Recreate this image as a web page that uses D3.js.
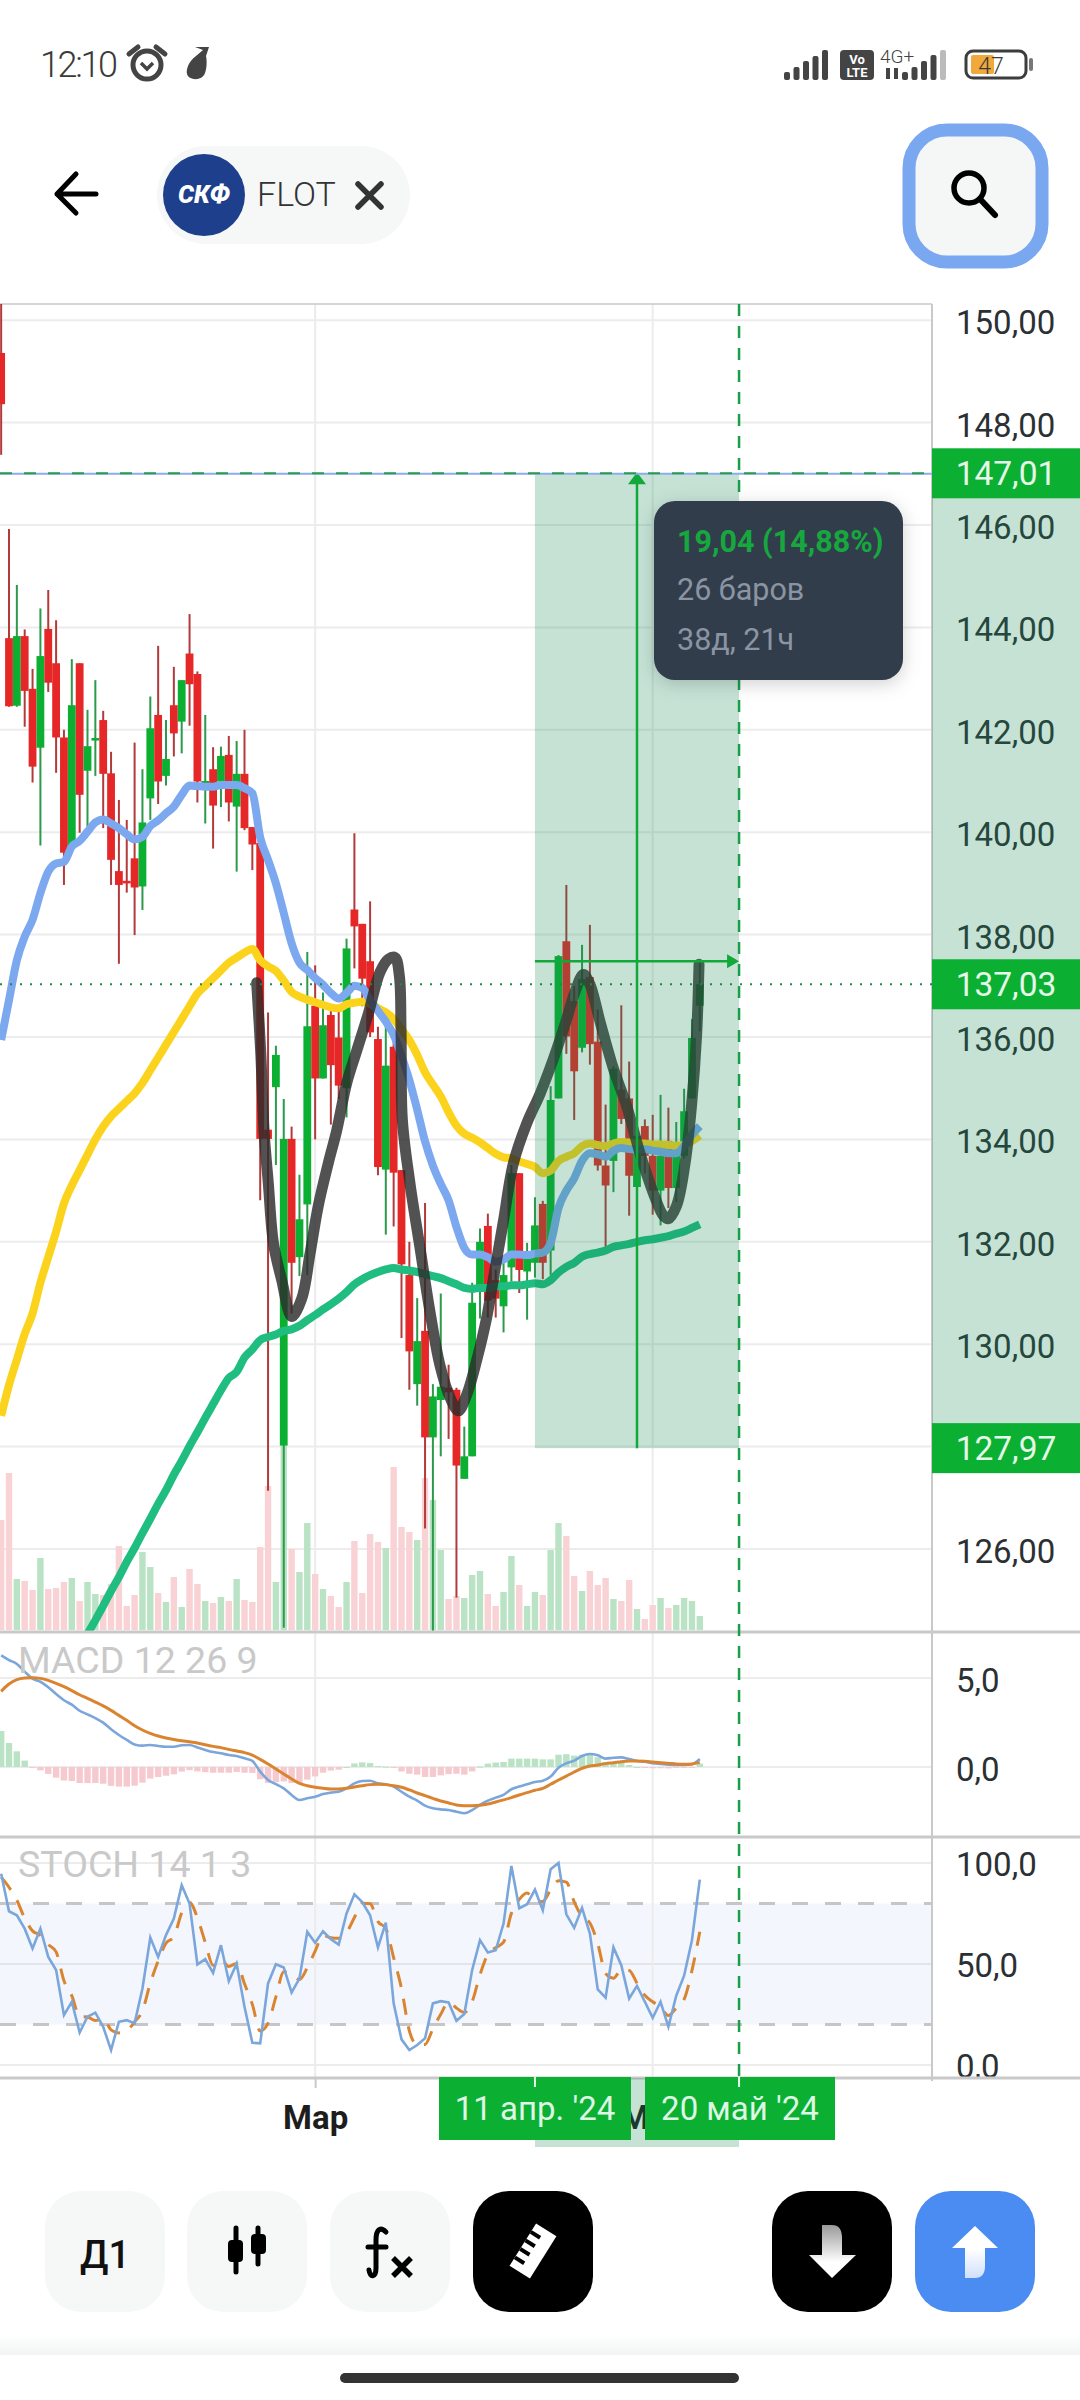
<!DOCTYPE html>
<html><head><meta charset="utf-8">
<style>html,body{margin:0;padding:0;background:#fff}svg{display:block}text{font-family:Roboto,sans-serif}</style>
<script src="https://cdn.jsdelivr.net/npm/d3@7/dist/d3.min.js"></script></head>
<body><div id="chart"></div>
<script>
const openP=[149.36,143.79,142.47,143.83,142.80,141.65,143.97,143.30,141.85,139.72,143.30,141.20,141.79,142.19,141.15,139.24,139.05,139.49,138.94,140.66,142.29,141.10,142.48,142.16,143.49,143.09,140.85,141.23,140.99,141.51,140.50,141.14,140.10,139.79,134.19,135.02,128.02,134.01,131.70,132.73,136.61,135.19,136.43,135.99,135.00,138.49,138.21,137.48,135.96,133.41,135.81,133.40,131.35,129.22,130.26,128.18,128.91,129.15,129.11,127.37,127.81,131.15,132.31,131.25,130.74,131.50,133.34,131.42,131.59,132.74,131.83,134.80,137.87,136.70,135.79,137.17,135.91,133.49,133.58,134.97,134.80,133.07,134.26,133.68,133.00,133.97,133.05,133.68,134.80,136.61];
const highP=[150.40,145.92,144.83,143.96,143.19,144.37,144.73,144.14,142.00,143.38,143.30,142.39,142.97,142.37,141.57,140.63,140.24,141.75,141.23,142.65,143.64,142.19,143.23,142.97,144.26,143.14,142.29,141.66,141.67,141.88,141.78,142.00,140.10,139.79,136.48,135.83,134.79,134.25,133.31,137.66,137.40,136.87,136.54,136.56,137.92,139.98,138.21,138.65,136.20,136.30,135.94,133.40,132.00,130.90,132.76,129.22,130.99,129.60,129.15,128.39,131.20,132.26,132.55,131.46,131.67,133.50,133.34,131.98,132.87,132.80,135.04,137.60,138.97,137.00,137.80,138.19,136.54,134.68,135.43,136.62,135.52,134.80,134.39,134.48,134.87,134.62,134.34,134.99,136.35,137.47];
const lowP=[147.37,142.45,142.45,142.06,140.97,139.74,142.74,141.16,138.97,139.60,139.99,140.08,141.10,140.08,138.97,137.43,138.82,137.99,138.48,140.24,140.55,140.91,141.48,141.54,142.08,140.58,140.17,139.68,140.49,140.21,139.23,140.04,139.26,132.81,127.14,133.50,124.46,130.60,131.33,131.35,134.00,135.19,134.29,134.79,134.43,137.34,136.60,136.00,133.30,132.14,132.30,130.12,129.11,128.80,126.40,124.40,127.81,128.15,125.05,127.37,127.81,130.50,130.52,130.52,130.23,131.22,131.00,130.48,131.30,131.27,131.35,134.80,135.67,134.38,135.70,135.46,133.39,131.86,132.97,134.30,132.51,133.00,133.34,132.53,132.32,132.66,132.78,133.63,134.80,136.11];
const closeP=[148.36,142.46,143.83,142.76,141.28,143.44,142.92,141.85,139.60,142.48,140.73,141.68,141.84,141.14,139.46,138.97,139.00,138.92,140.19,142.03,140.99,141.43,141.93,142.97,142.89,140.99,141.00,140.52,141.49,140.58,141.14,140.08,139.76,134.01,134.01,135.65,134.01,131.59,132.44,136.21,135.19,136.23,135.45,135.05,137.73,138.16,137.14,136.09,133.46,135.44,133.35,131.56,129.86,130.06,128.18,128.98,129.17,129.06,127.63,127.81,130.81,132.00,130.85,130.89,131.35,133.34,131.45,131.74,132.32,131.59,134.77,137.58,136.01,135.33,137.13,135.86,133.49,133.10,135.38,134.40,133.29,134.07,133.68,133.00,133.68,133.05,133.73,134.55,135.98,137.03];
const volume=[110,157,51,49,40,72,41,42,48,52,29,48,36,35,46,84,24,35,78,63,37,28,53,23,61,46,29,27,33,29,51,30,28,83,144,48,190,81,58,107,56,41,34,23,48,89,37,96,88,82,163,103,98,90,152,130,80,31,34,32,55,59,36,24,38,74,45,24,38,35,80,107,94,54,39,59,45,52,31,29,50,21,11,25,32,22,25,32,29,14];
const maBlue=[135.94,136.72,137.5,137.96,138.29,138.81,139.23,139.39,139.42,139.72,139.83,140.01,140.19,140.25,140.17,140.08,139.96,139.86,139.91,140.12,140.23,140.37,140.5,140.73,140.91,140.9,140.89,140.89,140.92,140.92,140.92,140.86,140.76,139.9,139.46,139,138.42,137.83,137.45,137.31,137.15,137.02,136.86,136.75,136.86,137,136.96,136.72,136.51,136.3,136.04,135.63,135.16,134.58,133.96,133.49,133.13,132.81,132.29,131.88,131.75,131.75,131.7,131.61,131.65,131.75,131.75,131.74,131.77,131.79,131.98,132.66,133,133.24,133.58,133.73,133.71,133.66,133.78,133.83,133.81,133.8,133.81,133.78,133.76,133.73,133.73,133.87,134.09,134.26];
const maYellow=[128.6,129.2,129.7,130.2,130.6,131.2,131.7,132.2,132.75,133.1,133.4,133.7,134,134.25,134.45,134.6,134.75,134.9,135.1,135.35,135.6,135.85,136.1,136.35,136.6,136.85,137,137.15,137.3,137.45,137.55,137.65,137.72,137.5,137.38,137.29,137.1,136.88,136.79,136.73,136.68,136.63,136.58,136.56,136.64,136.67,136.69,136.65,136.56,136.48,136.35,136.15,135.94,135.65,135.31,135.07,134.84,134.53,134.27,134.11,134.03,133.94,133.83,133.72,133.65,133.63,133.57,133.52,133.46,133.34,133.39,133.58,133.66,133.73,133.87,133.92,133.89,133.87,133.92,133.95,133.94,133.92,133.92,133.9,133.9,133.89,133.88,133.9,133.97,134.07];
const maGreen=[null,null,null,null,null,null,null,null,null,null,null,124.34,124.61,124.89,125.18,125.45,125.75,126.02,126.31,126.59,126.88,127.15,127.45,127.72,128.01,128.28,128.56,128.83,129.1,129.34,129.46,129.74,129.9,130.08,130.14,130.19,130.26,130.29,130.36,130.47,130.57,130.68,130.78,130.89,131.02,131.17,131.27,131.35,131.41,131.46,131.49,131.46,131.44,131.41,131.37,131.33,131.29,131.23,131.17,131.1,131.08,131.1,131.1,131.13,131.13,131.15,131.15,131.17,131.19,131.17,131.25,131.4,131.51,131.59,131.71,131.76,131.79,131.83,131.9,131.93,131.96,132,132.03,132.05,132.08,132.11,132.16,132.2,132.27,132.34];
const drawnBar=[32.55,33.06,33.49,34.04,34.68,35.74,37.01,38.29,39.35,40.41,41.68,42.74,44.02,45.29,46.78,48.27,49.33,50.18,50.73,50.94,51.11,52.09,53.36,54.63,55.91,57.18,58.24,59.3,60.58,61.85,62.91,63.98,65.25,66.95,68.65,70.34,72.04,73.1,74.17,75,76.29,78,79.69,81.38,83.08,84.36,85,86.05,87.12,87.97,88.6,88.9];
const drawnPrice=[137.06,135.73,134.17,133.13,131.98,131.25,130.54,130.89,131.77,132.71,133.54,134.17,135.1,135.73,136.46,137.27,137.52,137.55,137.19,136.15,134.38,133.13,131.88,130.63,129.58,128.96,128.7,129.01,129.69,130.52,131.46,132.4,133.53,134.31,134.89,135.57,136.35,136.88,137.22,137.03,136.3,135.38,134.65,133.73,132.95,132.51,132.45,132.71,133.53,134.7,136.06,137.42];
const macdLine=[6.27,6.01,5.79,5.36,4.96,4.79,4.48,4.10,3.75,3.50,3.16,2.96,2.75,2.49,2.12,1.80,1.52,1.27,1.20,1.24,1.18,1.14,1.14,1.22,1.24,1.10,0.96,0.84,0.77,0.67,0.62,0.49,0.34,-0.26,-0.73,-0.96,-1.2,-1.57,-1.85,-1.76,-1.67,-1.52,-1.44,-1.39,-1.2,-0.92,-0.79,-0.77,-0.92,-0.97,-1.1,-1.39,-1.67,-1.89,-2.17,-2.32,-2.38,-2.42,-2.51,-2.6,-2.42,-2.13,-1.89,-1.72,-1.57,-1.25,-1.10,-0.97,-0.84,-0.77,-0.54,-0.04,0.21,0.36,0.62,0.73,0.66,0.47,0.52,0.54,0.45,0.34,0.30,0.21,0.17,0.13,0.11,0.11,0.15,0.45];
const macdSignal=[4.25,4.66,4.91,5.0,5.02,4.98,4.87,4.70,4.51,4.29,4.06,3.86,3.65,3.43,3.18,2.90,2.62,2.32,2.08,1.89,1.74,1.63,1.55,1.48,1.42,1.35,1.25,1.16,1.09,0.99,0.90,0.81,0.67,0.43,0.17,-0.11,-0.39,-0.67,-0.92,-1.05,-1.14,-1.20,-1.24,-1.24,-1.2,-1.12,-1.05,-0.99,-0.97,-0.99,-1.05,-1.14,-1.29,-1.46,-1.61,-1.76,-1.91,-2.02,-2.13,-2.17,-2.17,-2.15,-2.08,-1.97,-1.85,-1.72,-1.57,-1.44,-1.31,-1.2,-0.97,-0.73,-0.51,-0.28,-0.07,0.06,0.11,0.19,0.24,0.30,0.34,0.34,0.32,0.28,0.24,0.21,0.17,0.15,0.17,0.26];
const stochK=[94.7,76.1,74.1,67.5,57.7,67.5,53.5,47,24.7,31.3,16.1,23.9,25.9,18.9,7.4,21.4,22.2,20.6,37.9,63.1,53.5,64.3,72.5,89,79.9,49.8,52.4,45.6,59.3,41.5,50.2,28.8,11,10.7,40.4,49.9,48.3,35.9,42.8,65.9,60.5,66.2,62.3,59.6,75,84.5,80.7,74.1,58.2,70.5,30.5,12.7,7.4,9.9,13.2,30.5,31.6,31,21.9,25.2,47,61.8,55.7,56.8,70,98.5,77.6,79.6,86.8,76.6,96.9,100,74.6,67.9,77.8,65.1,37.4,33.3,58.2,49.4,32.9,39.2,31.3,23.4,31.3,18.9,34.3,44.2,61.8,91.8];
const stochD=[93,88,81.6,72.6,66.4,64.2,59.6,56,41.7,34.3,24,23.8,22,22.9,17.4,15.9,17,21.4,26.9,40.5,51.5,60.3,63.4,75.3,80.5,72.9,60.7,49.3,52.4,48.8,50.3,40.2,30,16.8,20.7,33.7,46.2,44.7,42.3,48.2,56.4,64.2,63,62.7,65.6,73,80.1,79.8,71,67.6,53.1,37.9,16.9,10,10.2,17.9,25.1,31,28.2,26,31.4,44.7,54.8,58.1,60.8,75.1,82,85.2,81.3,81,86.8,91.2,90.5,80.8,73.4,70.3,60.1,45.3,43,47,46.8,40.5,34.5,31.3,28.7,24.5,28.2,32.5,46.8,66];
const priceTicks=d3.range(126,151,2);
const macdTicks=[0,5];
const stochTicks=[0,50,100];
const monthBars=[40,83];
const monthNames=["Мар","Май"];
const rangeBars=[68,94];
const rangePrices=[147.01,127.97];
const targetPrice=137.48;
const lastPrice=137.03;
const dateTags=["11 апр. '24","20 май '24"];
const tooltipLines=["19,04 (14,88%)","26 баров","38д, 21ч"];

const svg=d3.select('#chart').append('svg').attr('width',1080).attr('height',2400).attr('viewBox','0 0 1080 2400');
const defs=svg.append('defs');
const P={l:0,r:932,top:304,main:1632,macd:1837,stoch:2078};
const clip=(id,y0,y1,w=1080)=>defs.append('clipPath').attr('id',id).append('rect').attr('x',0).attr('y',y0).attr('width',w).attr('height',y1-y0);
clip('cMain',P.top,P.main,P.r);clip('cMacd',P.main,P.macd,P.r);clip('cStoch',P.macd,P.stoch,P.r);clip('cAxis',P.top,P.stoch);
const sh=defs.append('filter').attr('id','sh').attr('x','-20%').attr('y','-20%').attr('width','140%').attr('height','140%');
sh.append('feDropShadow').attr('dx',0).attr('dy',4).attr('stdDeviation',9).attr('flood-color','#000').attr('flood-opacity',.18);
const gDown=defs.append('linearGradient').attr('id','gDown').attr('x1',0).attr('y1',0).attr('x2',0).attr('y2',1);
gDown.append('stop').attr('offset',0).attr('stop-color','#999');gDown.append('stop').attr('offset',.7).attr('stop-color','#fff');
const gUp=defs.append('linearGradient').attr('id','gUp').attr('x1',0).attr('y1',0).attr('x2',0).attr('y2',1);
gUp.append('stop').attr('offset',.45).attr('stop-color','#fff');gUp.append('stop').attr('offset',1).attr('stop-color','#cfe0fb');
const gFoot=defs.append('linearGradient').attr('id','gFoot').attr('x1',0).attr('y1',0).attr('x2',0).attr('y2',1);
gFoot.append('stop').attr('offset',0).attr('stop-color','#fff');gFoot.append('stop').attr('offset',1).attr('stop-color','#f2f3f3');

const x=d3.scaleLinear().domain([0,100]).range([1.15,786.15]);
const y=d3.scaleLinear().domain([126,146]).range([1549,525]);
const yVol=d3.scaleLinear().domain([0,200]).range([1630,1430]);
const yM=d3.scaleLinear().domain([0,5]).range([1767,1678]);
const yS=d3.scaleLinear().domain([0,100]).range([2065,1863]);
const bars=d3.range(openP.length);
const GRID='#ececec',DIV='#c9c9c9',UP='#0bb033',DOWN='#e62727';

// grid
const grid=svg.append('g');
grid.selectAll('.gp').data(priceTicks).join('line').attr('x1',0).attr('x2',P.r).attr('y1',d=>y(d)).attr('y2',d=>y(d)).attr('stroke',GRID).attr('stroke-width',2);
grid.selectAll('.gm').data(macdTicks).join('line').attr('x1',0).attr('x2',P.r).attr('y1',d=>yM(d)).attr('y2',d=>yM(d)).attr('stroke',GRID).attr('stroke-width',2);
grid.append('rect').attr('x',0).attr('width',P.r).attr('y',yS(80)).attr('height',yS(20)-yS(80)).attr('fill','#f3f7fd');
grid.selectAll('.gs').data(stochTicks).join('line').attr('x1',0).attr('x2',P.r).attr('y1',d=>yS(d)).attr('y2',d=>yS(d)).attr('stroke',d=>d==50?'#e2e4e8':GRID).attr('stroke-width',2);
grid.selectAll('.gv').data(monthBars).join('line').attr('x1',d=>x(d)).attr('x2',d=>x(d)).attr('y1',P.top).attr('y2',P.stoch).attr('stroke',GRID).attr('stroke-width',2);
grid.append('line').attr('x1',0).attr('x2',P.r).attr('y1',P.top).attr('y2',P.top).attr('stroke',DIV).attr('stroke-width',1.5);

// main pane
const main=svg.append('g').attr('clip-path','url(#cMain)');
const isUp=i=>closeP[i]>=openP[i];
main.append('g').selectAll('rect').data(bars).join('rect')
 .attr('x',i=>x(i)-3.2).attr('width',6.4).attr('y',i=>yVol(volume[i])).attr('height',i=>yVol(0)-yVol(volume[i]))
 .attr('fill',i=>isUp(i)?'#b9e3c4':'#f8d2d5');
main.append('g').selectAll('line').data(bars).join('line')
 .attr('x1',i=>x(i)).attr('x2',i=>x(i)).attr('y1',i=>y(highP[i])).attr('y2',i=>y(lowP[i]))
 .attr('stroke',i=>isUp(i)?'#2b9a4a':'#b23a3a').attr('stroke-width',2);
main.append('g').selectAll('rect').data(bars).join('rect')
 .attr('x',i=>x(i)-3.9).attr('width',7.8).attr('y',i=>y(Math.max(openP[i],closeP[i])))
 .attr('height',i=>Math.max(2,Math.abs(y(openP[i])-y(closeP[i])))).attr('fill',i=>isUp(i)?UP:DOWN);
const lineOf=(arr,sc)=>d3.line().defined(i=>arr[i]!=null).x(i=>x(i)).y(i=>sc(arr[i])).curve(d3.curveMonotoneX)(bars);
main.append('path').attr('d',lineOf(maGreen,y)).attr('fill','none').attr('stroke','#1fbd80').attr('stroke-width',8);
main.append('path').attr('d',lineOf(maYellow,y)).attr('fill','none').attr('stroke','#fcd31c').attr('stroke-width',8);
main.append('path').attr('d',lineOf(maBlue,y)).attr('fill','none').attr('stroke','#7ba8ee').attr('stroke-width',8);
main.append('path').datum(drawnBar.map((b,k)=>[b,drawnPrice[k]]))
 .attr('d',d3.line().x(d=>x(d[0])).y(d=>y(d[1])).curve(d3.curveCatmullRom.alpha(.5)))
 .attr('fill','none').attr('stroke','#2c2c2c').attr('stroke-opacity',.82).attr('stroke-width',11).attr('stroke-linecap','round').attr('stroke-linejoin','round');

// macd pane
const mp=svg.append('g').attr('clip-path','url(#cMacd)');
mp.append('g').selectAll('rect').data(bars).join('rect')
 .attr('x',i=>x(i)-3.2).attr('width',6.4)
 .attr('y',i=>Math.min(yM(0),yM(macdLine[i]-macdSignal[i]))).attr('height',i=>Math.max(1,Math.abs(yM(macdLine[i]-macdSignal[i])-yM(0))))
 .attr('fill',i=>macdLine[i]>=macdSignal[i]?'#b9e3c4':'#f6c9ce');
mp.append('path').attr('d',lineOf(macdLine,yM)).attr('fill','none').attr('stroke','#7ba6dc').attr('stroke-width',2.6);
mp.append('path').attr('d',lineOf(macdSignal,yM)).attr('fill','none').attr('stroke','#da8430').attr('stroke-width',3);
mp.append('text').attr('x',18).attr('y',1673).attr('font-size',37.5).attr('fill','#c9c9c9').text('MACD 12 26 9');

// stoch pane
const sp=svg.append('g').attr('clip-path','url(#cStoch)');
sp.selectAll('.lv').data([20,80]).join('line').attr('x1',0).attr('x2',P.r).attr('y1',d=>yS(d)).attr('y2',d=>yS(d)).attr('stroke','#c6c6c6').attr('stroke-width',3).attr('stroke-dasharray','16 17');
sp.append('path').attr('d',d3.line().x(i=>x(i)).y(i=>yS(stochD[i])).curve(d3.curveMonotoneX)(bars)).attr('fill','none').attr('stroke','#da8430').attr('stroke-width',3).attr('stroke-dasharray','16 12');
sp.append('path').attr('d',d3.line().x(i=>x(i)).y(i=>yS(stochK[i]))(bars)).attr('fill','none').attr('stroke','#7ba6dc').attr('stroke-width',2.6);
sp.append('text').attr('x',18).attr('y',1877).attr('font-size',37.5).attr('fill','#c9c9c9').text('STOCH 14 1 3');

// axes
const fmt2=d=>d.toFixed(2).replace('.',','), fmt1=d=>d.toFixed(1).replace('.',',');
const styleAxis=g=>{g.select('.domain').remove();g.selectAll('text').attr('font-size',33).attr('fill','#2b3034').attr('font-family','Roboto');};
const axisGroup=svg.append('g').attr('clip-path','url(#cAxis)');
axisGroup.append('g').attr('transform',`translate(${P.r},3)`).call(d3.axisRight(y).tickValues(priceTicks).tickSize(0).tickPadding(24).tickFormat(fmt2)).call(styleAxis);
axisGroup.append('g').attr('transform',`translate(${P.r},3)`).call(d3.axisRight(yM).tickValues(macdTicks).tickSize(0).tickPadding(24).tickFormat(fmt1)).call(styleAxis);
axisGroup.append('g').attr('transform',`translate(${P.r},2)`).call(d3.axisRight(yS).tickValues(stochTicks).tickSize(0).tickPadding(24).tickFormat(fmt1)).call(styleAxis);

// dividers
[P.main,P.macd,P.stoch].forEach(v=>svg.append('line').attr('x1',0).attr('x2',1080).attr('y1',v).attr('y2',v).attr('stroke',DIV).attr('stroke-width',3));
svg.append('line').attr('x1',P.r).attr('x2',P.r).attr('y1',P.top).attr('y2',P.stoch+3).attr('stroke',DIV).attr('stroke-width',2);

// time axis
const xa=svg.append('g').attr('transform',`translate(0,${P.stoch})`).call(d3.axisBottom(x).tickValues(monthBars).tickSize(10).tickPadding(18).tickFormat((d,k)=>monthNames[k]));
xa.select('.domain').remove();
xa.selectAll('line').attr('stroke',DIV).attr('stroke-width',2);
xa.selectAll('text').attr('font-size',33).attr('font-weight',700).attr('fill','#1d1d1d').attr('font-family','Roboto');

// measure overlay
const ov=svg.append('g');
const rx0=x(rangeBars[0]),rx1=x(rangeBars[1]),ry0=y(rangePrices[0]),ry1=y(rangePrices[1]);
const OV='rgba(24,140,88,.25)';
ov.append('rect').attr('x',rx0).attr('width',rx1-rx0).attr('y',ry0).attr('height',ry1-ry0).attr('fill',OV);
ov.append('rect').attr('x',P.r).attr('width',1080-P.r).attr('y',ry0).attr('height',ry1-ry0).attr('fill',OV);
ov.append('rect').attr('x',rx0).attr('width',rx1-rx0).attr('y',P.stoch).attr('height',69).attr('fill',OV);
const LG='#12a83a';
const mid=(rx0+rx1)/2;
ov.append('line').attr('x1',mid).attr('x2',mid).attr('y1',ry1).attr('y2',ry0+6).attr('stroke',LG).attr('stroke-width',2.5);
ov.append('path').attr('d',`M${mid},${ry0-1}l9,12h-18z`).attr('fill',LG);
ov.append('line').attr('x1',rx0).attr('x2',rx1-8).attr('y1',y(targetPrice)).attr('y2',y(targetPrice)).attr('stroke',LG).attr('stroke-width',2.5);
ov.append('path').attr('d',`M${rx1},${y(targetPrice)}l-12,-7v14z`).attr('fill',LG);
ov.append('line').attr('x1',0).attr('x2',P.r).attr('y1',ry0+.5).attr('y2',ry0+.5).attr('stroke','#8aaee8').attr('stroke-width',2);
ov.append('line').attr('x1',0).attr('x2',P.r).attr('y1',ry0).attr('y2',ry0).attr('stroke','#2a9a50').attr('stroke-width',2).attr('stroke-dasharray','12 12');
ov.append('line').attr('x1',0).attr('x2',P.r).attr('y1',y(lastPrice)).attr('y2',y(lastPrice)).attr('stroke','#1f8a45').attr('stroke-width',2).attr('stroke-dasharray','2 8');
ov.append('line').attr('x1',rx1).attr('x2',rx1).attr('y1',P.top).attr('y2',P.stoch+10).attr('stroke','#1a9e4a').attr('stroke-width',2.5).attr('stroke-dasharray','12 10');

// price tags
const tag=(cy,t)=>{ov.append('rect').attr('x',P.r).attr('width',1080-P.r).attr('y',cy-25).attr('height',50).attr('fill',UP);
 ov.append('text').attr('x',1006).attr('y',cy+12).attr('text-anchor','middle').attr('font-size',33.5).attr('fill','#e6f8ea').text(t);};
tag(ry0,fmt2(rangePrices[0]));tag(y(lastPrice),fmt2(lastPrice));tag(ry1,fmt2(rangePrices[1]));

// date tags
const dt=(x0,x1,t)=>{ov.append('rect').attr('x',x0).attr('width',x1-x0).attr('y',2077).attr('height',63).attr('fill',UP);
 ov.append('text').attr('x',(x0+x1)/2).attr('y',2120).attr('text-anchor','middle').attr('font-size',33).attr('fill','#def6e4').text(t);};
dt(439,631,dateTags[0]);dt(645,835,dateTags[1]);
[rx0,rx1].forEach(v=>ov.append('line').attr('x1',v).attr('x2',v).attr('y1',2077).attr('y2',2087).attr('stroke','#e8f8ec').attr('stroke-width',2));

// tooltip
const tp=svg.append('g');
tp.append('rect').attr('x',654).attr('y',501).attr('width',249).attr('height',179).attr('rx',21).attr('fill','#333e4b').attr('filter','url(#sh)');
tp.append('text').attr('x',677).attr('y',552).attr('font-size',30.5).attr('font-weight',700).attr('fill','#16a83f').text(tooltipLines[0]);
tp.append('text').attr('x',677).attr('y',600).attr('font-size',30.5).attr('fill','#8b94a2').text(tooltipLines[1]);
tp.append('text').attr('x',677).attr('y',650).attr('font-size',30.5).attr('fill','#8b94a2').text(tooltipLines[2]);

// status bar
const st=svg.append('g');
st.append('text').attr('x',40).attr('y',77).attr('font-size',36).attr('font-weight',300).attr('fill','#3a3a3a').attr('textLength',78).text('12:10');
st.append('circle').attr('cx',147).attr('cy',65).attr('r',14).attr('fill','none').attr('stroke','#444').attr('stroke-width',5);
st.append('path').attr('d','M141,63l6,6l6,-6').attr('fill','none').attr('stroke','#444').attr('stroke-width',3.5);
st.append('path').attr('d','M129,54l9,-7M165,54l-9,-7').attr('stroke','#444').attr('stroke-width',5).attr('stroke-linecap','round');
st.append('path').attr('d','M196,56C188,62 186,70 187,74C188,80 202,82 205,73C207,68 207,60 206,56L209,47H195L203,50Z').attr('fill','#444');
const sig=(x0,hs,col)=>hs.forEach((h,k)=>st.append('rect').attr('x',x0+k*9.5).attr('y',80-h).attr('width',6).attr('height',h).attr('rx',2).attr('fill',col));
sig(784,[8,13,19,24,30],'#444');
st.append('rect').attr('x',840).attr('y',50).attr('width',34).attr('height',30).attr('rx',4).attr('fill','#444');
st.append('text').attr('x',857).attr('y',64).attr('text-anchor','middle').attr('font-size',13).attr('font-weight',700).attr('fill','#fff').text('Vo');
st.append('text').attr('x',857).attr('y',77).attr('text-anchor','middle').attr('font-size',13).attr('font-weight',700).attr('fill','#fff').text('LTE');
st.append('text').attr('x',880).attr('y',63).attr('font-size',19).attr('font-weight',300).attr('fill','#444').text('4G+');
st.append('path').attr('d','M888,68v11M896,79v-11').attr('stroke','#444').attr('stroke-width',4);
sig(902,[8,13,19,25],'#444');sig(940,[30],'#bbb');
st.append('rect').attr('x',966).attr('y',51).attr('width',60).attr('height',27).attr('rx',7).attr('fill','none').attr('stroke','#3d3d3d').attr('stroke-width',3);
st.append('rect').attr('x',971).attr('y',55).attr('width',23).attr('height',19).attr('rx',2).attr('fill','#f0a93a');
st.append('rect').attr('x',1029).attr('y',58).attr('width',4).attr('height',13).attr('rx',2).attr('fill','#777');
st.append('text').attr('x',991).attr('y',74).attr('text-anchor','middle').attr('font-size',23).attr('font-weight',300).attr('fill','#3a3a3a').text('47');

// header
const hd=svg.append('g');
hd.append('path').attr('d','M76,174L57,194L76,213M57,194H96').attr('fill','none').attr('stroke','#000').attr('stroke-width',5).attr('stroke-linecap','round').attr('stroke-linejoin','round');
hd.append('rect').attr('x',157).attr('y',146).attr('width',253).attr('height',98).attr('rx',49).attr('fill','#f6f8f8');
hd.append('circle').attr('cx',204).attr('cy',195).attr('r',41).attr('fill','#1d3f8c');
hd.append('text').attr('x',204).attr('y',203).attr('text-anchor','middle').attr('font-size',25).attr('font-weight',900).attr('font-style','italic').attr('fill','#fff').text('СКФ');
hd.append('text').attr('x',257).attr('y',206).attr('font-size',34).attr('font-weight',300).attr('fill','#333').text('FLOT');
hd.append('path').attr('d','M358,184L381,207M381,184L358,207').attr('stroke','#333').attr('stroke-width',5.5).attr('stroke-linecap','round');
hd.append('rect').attr('x',909).attr('y',130).attr('width',133).attr('height',132).attr('rx',38).attr('fill','#f5f7f7').attr('stroke','#7aa8f0').attr('stroke-width',13);
hd.append('circle').attr('cx',969).attr('cy',188).attr('r',15).attr('fill','none').attr('stroke','#000').attr('stroke-width',5.5);
hd.append('path').attr('d','M980,199L995,215').attr('stroke','#000').attr('stroke-width',6).attr('stroke-linecap','round');

// bottom bar
const bt=svg.append('g');
const btn=(x0,c)=>bt.append('rect').attr('x',x0).attr('y',2191).attr('width',120).attr('height',121).attr('rx',36).attr('fill',c);
btn(45,'#f6f8f8');btn(187,'#f6f8f8');btn(330,'#f6f8f8');btn(473,'#000');btn(772,'#000');btn(915,'#4a8cf1');
bt.append('text').attr('x',105).attr('y',2268).attr('text-anchor','middle').attr('font-size',38).attr('font-weight',500).attr('fill','#111').text('Д1');
bt.append('path').attr('d','M236,2228V2272M258,2228V2264').attr('stroke','#000').attr('stroke-width',5).attr('stroke-linecap','round');
bt.append('rect').attr('x',228).attr('y',2240).attr('width',15).attr('height',22).attr('rx',4).attr('fill','#000');
bt.append('rect').attr('x',251).attr('y',2234).attr('width',15).attr('height',20).attr('rx',4).attr('fill','#000');
bt.append('path').attr('d','M386,2232C380,2226 376,2230 376,2240V2268C376,2278 370,2278 369,2270M368,2247H386').attr('fill','none').attr('stroke','#000').attr('stroke-width',5).attr('stroke-linecap','round');
bt.append('path').attr('d','M393,2258L411,2276M411,2258L393,2276').attr('stroke','#000').attr('stroke-width',5.5);
bt.append('g').attr('transform','translate(533,2251) rotate(32)').call(g=>{
 g.append('rect').attr('x',-12).attr('y',-25).attr('width',24).attr('height',50).attr('fill','#fff');
 [-17,-7,3,13].forEach(v=>g.append('rect').attr('x',-12).attr('y',v).attr('width',11).attr('height',4).attr('fill','#000'));});
bt.append('path').attr('d','M822,2225H832Q842,2225 842,2238V2255H856L832,2278L809,2255H822Z').attr('fill','url(#gDown)');
bt.append('path').attr('d','M975,2226L998,2248H985V2266Q985,2278 975,2278H965V2248H952Z').attr('fill','url(#gUp)');
bt.append('rect').attr('x',0).attr('y',2335).attr('width',1080).attr('height',20).attr('fill','url(#gFoot)');
bt.append('rect').attr('x',340).attr('y',2373).attr('width',399).attr('height',10).attr('rx',5).attr('fill','#333');
</script></body></html>
